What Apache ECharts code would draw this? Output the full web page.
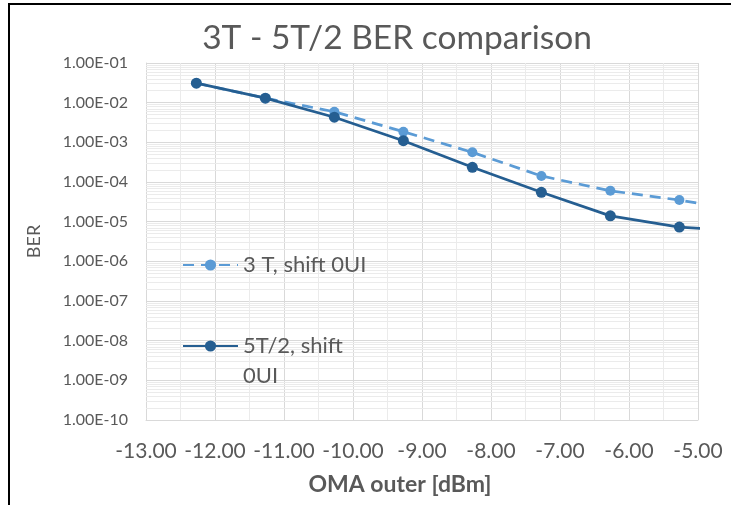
<!DOCTYPE html>
<html>
<head>
<meta charset="utf-8">
<script src="https://cdn.jsdelivr.net/npm/echarts@6/dist/echarts.min.js"></script>
<style>
  html, body { margin: 0; padding: 0; background: #fff; }
  #chart { width: 731px; height: 505px; }
</style>
</head>
<body>
<div id="chart"></div>
<script>
// OMA outer power (dBm) at each measurement
const omaOuter = [-12.27, -11.27, -10.27, -9.27, -8.27, -7.27, -6.27, -5.27, -4.27];
// Measured bit error ratio per configuration
const ber3T = [3.1e-2, 1.3e-2, 5.9e-3, 1.85e-3, 5.6e-4, 1.42e-4, 6.0e-5, 3.5e-5, 1.8e-5];
const ber5T2 = [3.1e-2, 1.3e-2, 4.3e-3, 1.1e-3, 2.35e-4, 5.5e-5, 1.4e-5, 7.3e-6, 5.6e-6];
const seriesNames = ['3 T, shift 0UI', '5T/2, shift 0UI'];

const FONT = 'Lato, "Open Sans", sans-serif';
const TEXT = '#595959';

function pairs(xs, ys) { return xs.map((x, i) => [x, ys[i]]); }

// Scientific label like 1.00E-05
function sci(v) {
  const exp = Math.round(Math.log10(v));
  const mant = v / Math.pow(10, exp);
  const sign = exp < 0 ? '-' : '+';
  const e = String(Math.abs(exp)).padStart(2, '0');
  return mant.toFixed(2) + 'E' + sign + e;
}

// Logarithmic minor grid values (2..9 within each decade)
const minorLines = [];
for (let p = -10; p <= -2; p++) {
  for (let k = 2; k <= 9; k++) minorLines.push({ yAxis: k * Math.pow(10, p) });
}

const chart = echarts.init(document.getElementById('chart'), null, { renderer: 'canvas' });
chart.setOption({
  backgroundColor: '#ffffff',
  animation: false,
  textStyle: { fontFamily: FONT },
  title: {
    text: '3T - 5T/2 BER comparison',
    left: 392,
    textAlign: 'center',
    top: 16,
    textStyle: { fontFamily: FONT, fontSize: 33.5, fontWeight: 'normal', color: TEXT }
  },
  graphic: [
    { type: 'rect', shape: { x: 8, y: 3, width: 723, height: 2 }, style: { fill: '#000' }, silent: true },
    { type: 'rect', shape: { x: 8, y: 3, width: 2, height: 502 }, style: { fill: '#000' }, silent: true }
  ],
  legend: [
    {
      data: [seriesNames[0]],
      left: 177, top: 248,
      itemWidth: 55, itemHeight: 14, itemGap: 6,
      textStyle: { fontFamily: FONT, fontSize: 22, lineHeight: 24, color: TEXT },
      selectedMode: false
    },
    {
      data: [seriesNames[1]],
      left: 177, top: 296,
      itemWidth: 55, itemHeight: 14,
      formatter: () => ' \n5T/2, shift\n0UI',
      textStyle: { fontFamily: FONT, fontSize: 22, color: TEXT, lineHeight: 30 },
      selectedMode: false
    }
  ],
  grid: { left: 146, right: 33, top: 63, bottom: 85, outerBoundsMode: 'none' },
  xAxis: {
    type: 'value',
    min: -13, max: -5, interval: 1,
    name: 'OMA outer [dBm]',
    nameLocation: 'middle',
    nameGap: 53,
    nameTextStyle: { fontFamily: FONT, fontSize: 23, fontWeight: 'bold', color: TEXT, padding: [0, 44, 0, 0] },
    axisLine: { show: true, onZero: false, lineStyle: { color: '#d9d9d9', width: 1 } },
    axisTick: { show: false },
    axisLabel: {
      fontFamily: FONT, fontSize: 21, color: TEXT, margin: 21,
      formatter: v => v.toFixed(2), hideOverlap: false
    },
    splitLine: { show: true, lineStyle: { color: '#d9d9d9', width: 1 } },
    minorTick: { show: false, splitNumber: 2 },
    minorSplitLine: { show: true, lineStyle: { color: '#ebebeb', width: 1 } }
  },
  yAxis: {
    type: 'log',
    logBase: 10,
    min: 1e-10, max: 1e-1,
    splitNumber: 9,
    name: 'BER',
    nameLocation: 'middle',
    nameGap: 103,
    nameTextStyle: { fontFamily: FONT, fontSize: 18, color: TEXT },
    axisLine: { show: true, lineStyle: { color: '#d9d9d9', width: 1 } },
    axisTick: { show: false },
    axisLabel: { fontFamily: FONT, fontSize: 16, color: TEXT, margin: 18, formatter: v => sci(v) },
    splitLine: { show: true, lineStyle: { color: '#d9d9d9', width: 1 } }
  },
  series: [
    {
      name: 'minor-grid',
      type: 'line',
      data: [],
      z: 0,
      silent: true,
      markLine: {
        z: 1,
        silent: true,
        symbol: 'none',
        precision: 15,
        label: { show: false },
        animation: false,
        lineStyle: { color: '#ebebeb', width: 1, type: 'solid' },
        data: minorLines
      }
    },
    {
      name: seriesNames[0],
      type: 'line',
      data: pairs(omaOuter, ber3T),
      symbol: 'circle',
      symbolSize: 10,
      color: '#5B9BD5',
      lineStyle: { color: '#5B9BD5', width: 2.75, type: [11, 7] },
      itemStyle: { color: '#5B9BD5' },
      z: 2
    },
    {
      name: seriesNames[1],
      type: 'line',
      data: pairs(omaOuter, ber5T2),
      symbol: 'circle',
      symbolSize: 11,
      color: '#255E91',
      lineStyle: { color: '#255E91', width: 2.75 },
      itemStyle: { color: '#255E91' },
      z: 3
    }
  ]
});
</script>
</body>
</html>
